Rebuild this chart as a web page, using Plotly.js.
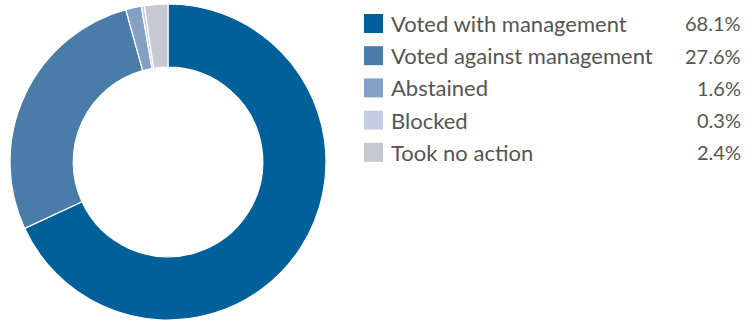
<!DOCTYPE html>
<html><head><meta charset="utf-8">
<script src="https://cdn.plot.ly/plotly-3.0.1.min.js"></script>
<style>html,body{margin:0;padding:0;background:#fff}#c{width:747px;height:321px}</style>
</head><body><div id="c"></div>
<script>
const labels = ["Voted with management","Voted against management","Abstained","Blocked","Took no action"];
const values = [68.1, 27.6, 1.6, 0.3, 2.4];
const valueText = ["68.1%","27.6%","1.6%","0.3%","2.4%"];
const colors = ["#00609a","#4a7ca9","#85a0c5","#c4cde2","#c8c8d2"];

const W = 747, H = 321;
const legendTop = 14, rowStep = 32.2, sq = 19, sqX = 364, textX = 389, valX = 743;
const shapes = [], annotations = [];
labels.forEach((lab, i) => {
  const y0 = legendTop + i * rowStep;
  shapes.push({type:"rect", xref:"paper", yref:"paper",
    x0: sqX / W, x1: (sqX + sq) / W, y0: 1 - (y0 + sq) / H, y1: 1 - y0 / H,
    fillcolor: colors[i], line: {width: 0}});
  annotations.push({xref:"paper", yref:"paper", x: textX / W, y: 1 - (y0 + sq/2) / H,
    xanchor:"left", yanchor:"middle", showarrow:false, text: lab,
    font:{family:"Lato, sans-serif", size:22, color:"#555555"}});
  annotations.push({xref:"paper", yref:"paper", x: valX / W, y: 1 - (y0 + sq/2) / H,
    xanchor:"right", yanchor:"middle", showarrow:false, text: valueText[i],
    font:{family:"Lato, sans-serif", size:20, color:"#555555"}});
});

const cx = 168, cy = 162, R = 158;
Plotly.newPlot("c", [{
  type:"pie", labels: labels, values: values, sort:false, direction:"clockwise", rotation:0,
  hole:0.6, textinfo:"none", hoverinfo:"none",
  marker:{colors: colors, line:{color:"#ffffff", width:1.2}},
  domain:{x:[(cx - R)/W, (cx + R)/W], y:[1 - (cy + R)/H, 1 - (cy - R)/H]},
  showlegend:false
}], {
  width: W, height: H, margin:{l:0,r:0,t:0,b:0},
  paper_bgcolor:"#ffffff", plot_bgcolor:"#ffffff",
  shapes: shapes, annotations: annotations, showlegend:false
}, {staticPlot:true, displayModeBar:false});
</script></body></html>
